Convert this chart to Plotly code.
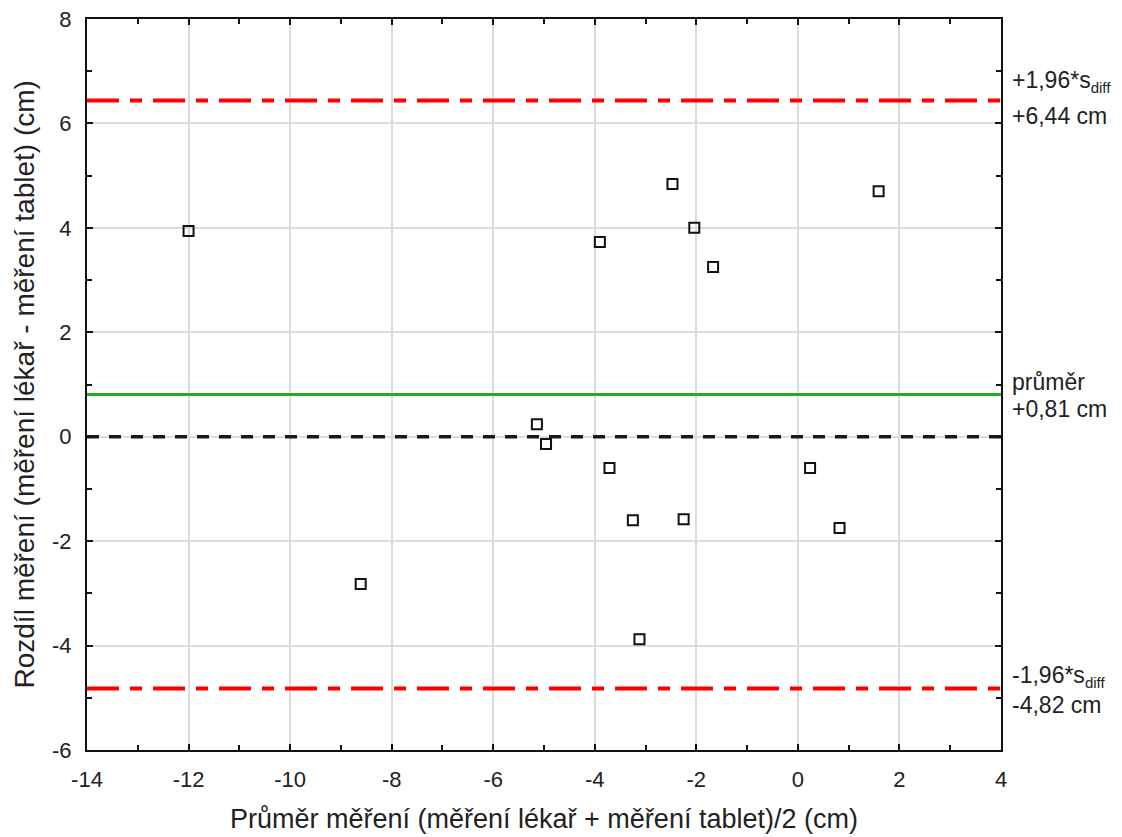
import plotly.graph_objects as go

mean_x = [-12.0, -8.61, -5.14, -4.96, -3.90, -3.71, -3.25, -3.12, -2.47, -2.25, -2.04, -1.67, 0.24, 0.82, 1.59]
diff_y = [3.94, -2.82, 0.24, -0.14, 3.73, -0.60, -1.60, -3.88, 4.84, -1.58, 4.00, 3.25, -0.60, -1.75, 4.70]

upper_loa = 6.44
mean_diff = 0.81
lower_loa = -4.82
x_range = [-14, 4]
y_range = [-6, 8]
x_ticks = [-14, -12, -10, -8, -6, -4, -2, 0, 2, 4]
y_ticks = [-6, -4, -2, 0, 2, 4, 6, 8]

fig = go.Figure()

red_dash = "32px,11px,12px,11px"
fig.add_trace(go.Scatter(x=x_range, y=[upper_loa, upper_loa], mode="lines",
                         line=dict(color="#ff0000", width=4, dash=red_dash), hoverinfo="skip"))
fig.add_trace(go.Scatter(x=x_range, y=[lower_loa, lower_loa], mode="lines",
                         line=dict(color="#ff0000", width=4, dash=red_dash), hoverinfo="skip"))
fig.add_trace(go.Scatter(x=x_range, y=[mean_diff, mean_diff], mode="lines",
                         line=dict(color="#1fae1f", width=3), hoverinfo="skip"))
fig.add_trace(go.Scatter(x=x_range, y=[0, 0], mode="lines",
                         line=dict(color="#1a1a1a", width=3.5, dash="12px,10px"), hoverinfo="skip"))
fig.add_trace(go.Scatter(x=mean_x, y=diff_y, mode="markers",
                         marker=dict(symbol="square-open", size=10, color="#111111",
                                     line=dict(width=2, color="#111111"))))

font = "Liberation Sans, Arial, sans-serif"
txt_color = "#222222"
ann_font = dict(family=font, size=23, color=txt_color)
sub = "<sub><span style='font-size:15px'>diff</span></sub>"
anns = [
    ("+1,96*s" + sub, 82),
    ("+6,44 cm", 117),
    ("průměr", 383),
    ("+0,81 cm", 410),
    ("-1,96*s" + sub, 677),
    ("-4,82 cm", 706),
]
plot_top, plot_h = 20, 731
for text, py in anns:
    fig.add_annotation(x=1.0, xref="paper", xshift=9, xanchor="left",
                       y=1 - (py - plot_top) / plot_h, yref="paper", yanchor="middle",
                       text=text, showarrow=False, font=ann_font)

# axis titles
fig.add_annotation(x=0.5, xref="paper", y=0, yref="paper", yshift=-69, yanchor="middle",
                   text="Průměr měření (měření lékař + měření tablet)/2 (cm)", showarrow=False,
                   font=dict(family=font, size=27, color=txt_color))
fig.add_annotation(x=0, xref="paper", xshift=-63, xanchor="center", y=0.5, yref="paper",
                   yanchor="middle", textangle=-90,
                   text="Rozdíl měření (měření lékař - měření tablet) (cm)", showarrow=False,
                   font=dict(family=font, size=28, color=txt_color))

axis_common = dict(
    showline=True, linecolor="#111111", linewidth=2, mirror="ticks",
    showgrid=True, gridcolor="#dcdcdc", gridwidth=2,
    ticks="inside", ticklen=6, tickcolor="#111111", tickwidth=1.5,
    zeroline=False, automargin=False, ticklabeloverflow="allow",
    tickfont=dict(family=font, size=22, color=txt_color),
)

fig.update_layout(
    width=1122, height=837,
    margin=dict(l=79, r=129, t=11, b=95),
    plot_bgcolor="white", paper_bgcolor="white",
    showlegend=False,
    xaxis=dict(range=x_range, tickmode="array", tickvals=x_ticks,
               ticktext=[str(v) for v in x_ticks], ticklabelstandoff=9,
               minor=dict(tickmode="array", tickvals=[v + 1 for v in x_ticks[:-1]],
                          ticks="inside", ticklen=5, tickcolor="#111111", tickwidth=1.5, showgrid=False),
               **axis_common),
    yaxis=dict(range=y_range, tickmode="array", tickvals=y_ticks,
               ticktext=[str(v) for v in y_ticks], ticklabelstandoff=9,
               minor=dict(tickmode="array", tickvals=[v + 1 for v in y_ticks[:-1]],
                          ticks="inside", ticklen=5, tickcolor="#111111", tickwidth=1.5, showgrid=False),
               **axis_common),
)

fig.write_html("out.html")
